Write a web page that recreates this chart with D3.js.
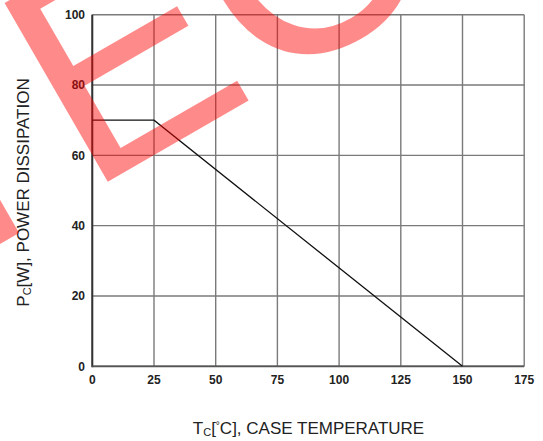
<!DOCTYPE html>
<html>
<head>
<meta charset="utf-8">
<script src="https://cdn.jsdelivr.net/npm/d3@7"></script>
<style>
html,body{margin:0;padding:0;background:#fff;}
svg{display:block;}
text{font-family:"Liberation Sans",Arial,sans-serif;}
</style>
</head>
<body>
<svg id="chart" width="543" height="441"></svg>
<script>
// Data
const tempC = [0, 25, 150];
const powerW = [70, 70, 0];
const xTicks = [0, 25, 50, 75, 100, 125, 150, 175];
const yTicks = [0, 20, 40, 60, 80, 100];
const xTitle = ["T", "C", "[", "°", "C], CASE TEMPERATURE"];
const yTitle = ["P", "C", "[W], POWER DISSIPATION"];
const watermark = "TEC";

const svg = d3.select("#chart");
const x = d3.scaleLinear().domain([0, 175]).range([92.3, 524.2]);
const y = d3.scaleLinear().domain([0, 100]).range([366.3, 14.7]);

// grid
const g = svg.append("g");
g.selectAll(".vg").data(xTicks).enter().append("line")
  .attr("x1", d => x(d)).attr("x2", d => x(d))
  .attr("y1", y(0)).attr("y2", y(100))
  .attr("stroke", "#7a7a7a").attr("stroke-width", 1.4);
g.selectAll(".hg").data(yTicks).enter().append("line")
  .attr("x1", x(0)).attr("x2", x(175))
  .attr("y1", d => y(d)).attr("y2", d => y(d))
  .attr("stroke", "#7a7a7a").attr("stroke-width", 1.4);
// left & bottom axis lines
g.append("line").attr("x1", x(0)).attr("x2", x(0)).attr("y1", y(0)+1).attr("y2", y(100))
  .attr("stroke", "#333").attr("stroke-width", 2);
g.append("line").attr("x1", x(0)).attr("x2", x(175)).attr("y1", y(0)).attr("y2", y(0))
  .attr("stroke", "#555").attr("stroke-width", 1.8);

// tick labels
g.selectAll(".xl").data(xTicks).enter().append("text")
  .attr("x", d => x(d)).attr("y", 383.5)
  .attr("text-anchor", "middle").attr("font-size", 12).attr("font-weight", "bold")
  .attr("fill", "#222").text(d => d);
g.selectAll(".yl").data(yTicks).enter().append("text")
  .attr("x", 85).attr("y", d => y(d) + 4.2)
  .attr("text-anchor", "end").attr("font-size", 12).attr("font-weight", "bold")
  .attr("fill", "#222").text(d => d);

// data line
const line = d3.line().x((d, i) => x(tempC[i])).y(d => y(d));
g.append("path").datum(powerW).attr("d", line)
  .attr("fill", "none").attr("stroke", "#111").attr("stroke-width", 1.3);

// axis titles
const xt = svg.append("text").attr("x", 308.5).attr("y", 433.5)
  .attr("text-anchor", "middle").attr("font-size", 17).attr("fill", "#222");
xt.append("tspan").text(xTitle[0]);
xt.append("tspan").attr("font-size", 11).attr("dy", 2).text(xTitle[1]);
xt.append("tspan").attr("dy", -2).text(xTitle[2]);
xt.append("tspan").attr("font-size", 10).attr("dy", -5).text(xTitle[3]);
xt.append("tspan").attr("dy", 5).text(xTitle[4]);

const yt = svg.append("text").attr("transform", "translate(29,192.5) rotate(-90)")
  .attr("text-anchor", "middle").attr("font-size", 17).attr("fill", "#222");
yt.append("tspan").text(yTitle[0]);
yt.append("tspan").attr("font-size", 11).attr("dy", 2).text(yTitle[1]);
yt.append("tspan").attr("dy", -2).text(yTitle[2]);

// watermark
svg.append("g").attr("transform", "translate(86.5,194) rotate(-30)")
  .append("text").attr("x", -183.3).attr("y", 0)
  .attr("font-size", 300).attr("fill", "#ff0000").attr("fill-opacity", 0.46)
  .text(watermark);
</script>
</body>
</html>
